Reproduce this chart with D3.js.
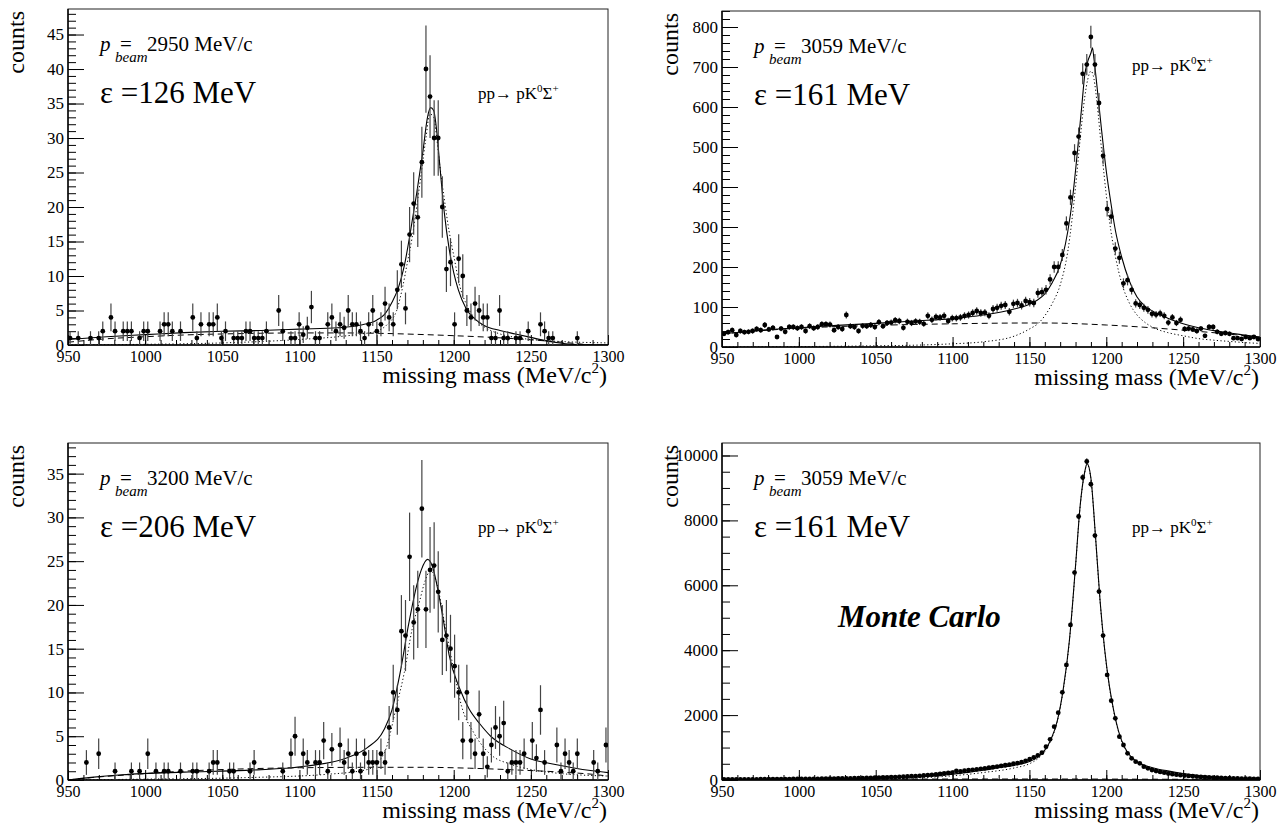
<!DOCTYPE html>
<html>
<head>
<meta charset="utf-8">
<script src="https://cdn.jsdelivr.net/npm/d3@7"></script>
<style>
    body { margin: 0; background: #fff; }
</style>
</head>
<body>
<div id="svg_container"></div>
<script>
// histogram binning shared by all four spectra
const massRange = [950, 1300];
const nBins = 132;
const xMajorTicks = [950, 1000, 1050, 1100, 1150, 1200, 1250, 1300];
const FONT = "'Liberation Serif', 'Times New Roman', Times, serif";

// counts per bin (0 = empty bin, not drawn)
const counts2950 = [
    1, 0, 1, 0, 0, 1, 0, 1, 2, 0,
    4, 2, 0, 2, 2, 2, 0, 1, 2, 2,
    0, 0, 2, 3, 3, 2, 0, 2, 0, 0,
    4, 1, 3, 0, 3, 3, 4, 1, 2, 0,
    1, 1, 1, 2, 2, 1, 1, 1, 2, 0,
    0, 5, 2, 0, 1, 1, 3, 1.5, 2.5, 5.5,
    1, 1, 0, 3, 4, 2, 3, 2.5, 5, 3,
    3, 2, 1, 3, 5, 2, 3, 6, 4, 3,
    8, 11.7, 5.3, 16, 20.5, 18.5, 26.5, 40, 36, 30,
    30, 20, 11, 12, 3, 12.5, 10, 5, 4, 6,
    5, 4, 4, 1, 1, 5, 1, 1, 0, 1,
    1, 0, 2, 0, 0, 3, 2, 1, 1, 0,
    0, 0, 0, 0, 1, 0, 0, 0, 0, 0,
    0, 0
];
const counts3059 = [
    33, 37, 42, 30, 40, 37, 38, 40, 45, 42,
    55, 44, 48, 25, 46, 38, 50, 50, 47, 50,
    40, 52, 47, 50, 57, 57, 56, 42, 50, 45,
    80, 52, 50, 40, 53, 52, 55, 50, 62, 52,
    60, 61, 67, 65, 48, 63, 60, 64, 63, 58,
    78, 68, 75, 74, 78, 65, 72, 72, 74, 78,
    80, 85, 90, 85, 86, 78, 95, 98, 103, 105,
    88, 108, 110, 104, 115, 112, 110, 135, 137, 143,
    169, 200, 200, 230, 309, 374, 485, 526, 683, 706,
    775, 706, 610, 478, 345, 326, 246, 223, 159, 167,
    143, 109, 105, 98, 93, 83, 81, 84, 78, 61,
    74, 60, 68, 45, 46, 44, 40, 46, 28, 50,
    50, 38, 33, 35, 33, 22, 22, 20, 25, 22,
    25, 20
];
const counts3200 = [
    0, 0, 0, 0, 2, 0, 0, 3, 0, 0,
    0, 1, 0, 0, 0, 1, 0, 1, 0, 3,
    0, 1, 0, 1, 1, 0, 0, 1, 0, 0,
    1, 1, 0, 0, 1, 2, 2, 0, 0, 1,
    1, 0, 0, 0, 1, 2, 0, 0, 0, 0,
    0, 0, 1, 0, 3, 5, 0, 3, 2, 0,
    2, 2, 4.5, 1, 3.5, 0, 4, 2, 3, 1,
    3, 1, 3, 2, 2, 2, 3, 2, 6, 10,
    8, 17, 16.5, 25.5, 18, 19.5, 31, 19.5, 24, 24.5,
    21.5, 16, 16.5, 15, 13, 10, 4.5, 10, 4.5, 3,
    7.5, 3, 1.5, 4, 6, 5, 6.5, 1, 2, 2,
    2, 3, 0, 4.5, 2.5, 8, 2, 0, 0, 4,
    1, 3, 2, 1, 3, 0, 0, 0, 2, 1,
    0, 4
];
const countsMC = [
    15, 16, 17, 18, 19, 20, 20, 21, 22, 23,
    24, 25, 26, 27, 28, 29, 30, 31, 32, 33,
    34, 35, 36, 37, 38, 40, 42, 44, 46, 48,
    50, 52, 54, 57, 60, 63, 66, 70, 74, 78,
    82, 86, 90, 95, 100, 108, 115, 120, 130, 140,
    150, 160, 170, 185, 200, 215, 230, 280, 265, 285,
    300, 315, 330, 345, 360, 380, 395, 415, 435, 455,
    475, 500, 520, 550, 590, 640, 700, 760, 843, 1028,
    1254, 1644, 2076, 2703, 3546, 4779, 6393, 8120, 9322, 9815,
    9116, 7533, 5807, 4450, 3237, 2446, 1901, 1336, 1079, 822,
    668, 565, 514, 411, 360, 308, 277, 250, 225, 200,
    180, 165, 150, 135, 125, 115, 105, 95, 88, 80,
    75, 70, 65, 60, 55, 50, 47, 44, 41, 38,
    35, 32
];

// fitted curves [mass, counts]: total, background, signal
const fit2950 = [[950,0.8],[975,1.2],[1000,1.5],[1025,1.8],[1050,2.0],[1075,2.1],[1100,2.3],[1125,2.5],[1140,2.9],[1150,3.6],[1155,4.4],[1160,6.2],[1164,8.2],[1168,11.5],[1172,16.5],[1176,22],[1180,28],[1183,33],[1185,34.4],[1187,34],[1189,31],[1191,26],[1194,19],[1197,14],[1200,10.5],[1203,8],[1208,5.3],[1214,3.7],[1220,2.8],[1230,2.1],[1240,1.6],[1250,1.1],[1260,0.6],[1270,0.25],[1280,0.05],[1290,0],[1300,0]];
const bkg2950 = [[950,0.4],[975,0.9],[1000,1.2],[1025,1.45],[1050,1.6],[1075,1.7],[1100,1.75],[1125,1.75],[1150,1.7],[1175,1.55],[1200,1.35],[1225,1.1],[1250,0.75],[1265,0.5],[1280,0.2],[1290,0],[1300,0]];
const sig2950 = [[950,0],[1000,0.1],[1050,0.3],[1075,0.5],[1100,0.8],[1125,1.2],[1140,1.6],[1150,2.0],[1157,3.0],[1163,5],[1167,8.5],[1170,12],[1173,15.5],[1176,20],[1179,25],[1182,30],[1184.5,33.5],[1187,33],[1189,30],[1191,26],[1194,21],[1197,16.5],[1200,13],[1204,8.5],[1208,6],[1213,4],[1220,2.6],[1230,1.6],[1240,1.1],[1255,0.7],[1270,0.5],[1300,0.3]];

const fit3059 = [[950,33],[975,42],[1000,48],[1025,54],[1050,59],[1075,65],[1100,71],[1120,80],[1140,95],[1150,107],[1155,117],[1160,133],[1165,162],[1170,205],[1175,290],[1178,370],[1181,480],[1184,600],[1186,680],[1188,715],[1190,735],[1191,748],[1192,720],[1194,650],[1197,540],[1200,440],[1203,360],[1206,290],[1210,225],[1215,165],[1220,125],[1225,103],[1230,90],[1240,72],[1250,58],[1260,48],[1270,41],[1280,35],[1290,30],[1300,25]];
const bkg3059 = [[950,33],[1000,47],[1050,54],[1100,58],[1150,60],[1160,60],[1200,55],[1230,48],[1250,42],[1275,34],[1300,24]];
const sig3059 = [[950,0],[1000,1],[1050,3],[1080,5],[1100,8],[1120,13],[1140,27],[1150,45],[1156,60],[1160,78],[1165,110],[1170,155],[1175,240],[1180,400],[1183,520],[1186,625],[1188,670],[1190,690],[1192,670],[1194,610],[1197,490],[1200,380],[1203,290],[1206,225],[1210,160],[1215,110],[1220,80],[1225,62],[1232,46],[1240,36],[1250,28],[1260,21],[1270,17],[1280,14],[1290,11],[1300,9]];

const fit3200 = [[950,0],[965,0.3],[985,0.6],[1025,0.9],[1065,1.1],[1105,1.6],[1131,2.55],[1144,3.7],[1155,5.8],[1160,8],[1165,12],[1171,18],[1176,22.2],[1179,24],[1183,25.2],[1186,24.5],[1190,21.5],[1194,17.5],[1197,14.3],[1204,10.4],[1210,8.1],[1217,6.4],[1224,5.0],[1237,3.5],[1250,2.4],[1265,1.8],[1277,1.4],[1290,1.05],[1300,0.84]];
const bkg3200 = [[950,0],[970,0.35],[990,0.6],[1010,0.85],[1030,1.05],[1060,1.25],[1100,1.4],[1150,1.45],[1180,1.45],[1210,1.35],[1240,1.15],[1270,0.9],[1290,0.65],[1300,0.45]];
const sig3200 = [[950,0],[1000,0.1],[1065,0.27],[1118,0.65],[1144,1.2],[1155,3.1],[1163,8.5],[1168,12.3],[1173,17.2],[1178,20.5],[1181,22.5],[1185,23.9],[1189,22.5],[1194,18],[1200,12.6],[1205,8.5],[1213,5.4],[1224,2.9],[1237,1.8],[1250,1.2],[1264,0.84],[1300,0.45]];

const fitMC = [[950,15],[1000,30],[1050,60],[1075,95],[1090,130],[1100,180],[1110,235],[1120,300],[1130,375],[1140,450],[1150,570],[1155,690],[1160,920],[1164,1250],[1168,1800],[1172,2800],[1176,4300],[1180,6600],[1183,8450],[1186,9500],[1187.5,9750],[1190,9300],[1193,7500],[1196,5500],[1199,4000],[1202,2900],[1205,2100],[1208,1500],[1212,1000],[1216,720],[1220,560],[1230,380],[1240,280],[1250,200],[1260,140],[1270,100],[1280,70],[1290,50],[1300,35]];
const bkgMC = [[950,15],[1000,20],[1050,25],[1100,30],[1150,30],[1200,28],[1250,22],[1300,15]];
const sigMC = [[950,0],[1000,10],[1050,35],[1080,70],[1100,130],[1120,230],[1140,370],[1150,500],[1155,640],[1160,880],[1164,1230],[1168,1780],[1172,2780],[1176,4280],[1180,6580],[1183,8430],[1186,9480],[1187.5,9730],[1190,9280],[1193,7480],[1196,5480],[1199,3980],[1202,2880],[1205,2080],[1208,1480],[1212,980],[1216,700],[1220,540],[1230,360],[1240,260],[1250,180],[1260,120],[1270,85],[1280,58],[1290,40],[1300,25]];

const panelDefs = [
    {counts: counts2950, fit: fit2950, bkg: bkg2950, sig: sig2950, yMax: 48.7, yMajor: 5, yMinor: 1,
        box: [68, 9, 608, 345], pbeam: "2950", eps: "126", mc: false},
    {counts: counts3059, fit: fit3059, bkg: bkg3059, sig: sig3059, yMax: 840, yMajor: 100, yMinor: 20,
        box: [722, 11, 1260, 347], pbeam: "3059", eps: "161", mc: false},
    {counts: counts3200, fit: fit3200, bkg: bkg3200, sig: sig3200, yMax: 38.5, yMajor: 5, yMinor: 1,
        box: [68, 443, 608, 780], pbeam: "3200", eps: "206", mc: false},
    {counts: countsMC, fit: fitMC, bkg: bkgMC, sig: sigMC, yMax: 10385, yMajor: 2000, yMinor: 500,
        box: [722, 443, 1260, 780], pbeam: "3059", eps: "161", mc: true}
];

const svg = d3.select("#svg_container")
        .append("svg")
        .attr("width", 1281)
        .attr("height", 825)
        .attr("font-family", FONT);

const binWidth = (massRange[1] - massRange[0]) / nBins;

function addText(x, y, size, str) {
    return svg.append("text")
            .attr("x", x).attr("y", y)
            .attr("font-family", FONT)
            .attr("font-size", size)
            .attr("fill", "#000")
            .text(str);
}

panelDefs.forEach(function (p, i) {
    const [x0, y0, x1, y1] = p.box;
    const x = d3.scaleLinear().domain(massRange).range([x0, x1]);
    const y = d3.scaleLinear().domain([0, p.yMax]).range([y1, y0]);
    const g = svg.append("g").attr("class", "panel");

    g.append("clipPath").attr("id", "clip" + i)
            .append("rect")
            .attr("x", x0).attr("y", y0)
            .attr("width", x1 - x0).attr("height", y1 - y0);

    // axes, ticks pointing inward as in ROOT
    const bottom = g.append("g")
            .attr("transform", "translate(0," + y1 + ")")
            .call(d3.axisBottom(x).tickValues(xMajorTicks).tickSize(-10).tickPadding(6).tickFormat(d3.format("d")));
    g.append("g")
            .attr("transform", "translate(0," + y1 + ")")
            .call(d3.axisBottom(x).tickValues(d3.range(massRange[0], massRange[1] + 1, 10)).tickSize(-5).tickFormat(""));
    const yMajors = d3.range(0, p.yMax + 1e-6, p.yMajor);
    const left = g.append("g")
            .attr("transform", "translate(" + x0 + ",0)")
            .call(d3.axisLeft(y).tickValues(yMajors).tickSize(-16).tickPadding(4).tickFormat(d3.format("d")));
    g.append("g")
            .attr("transform", "translate(" + x0 + ",0)")
            .call(d3.axisLeft(y).tickValues(d3.range(0, p.yMax + 1e-6, p.yMinor)).tickSize(-8).tickFormat(""));

    g.selectAll(".domain").remove();
    g.selectAll("g").attr("font-family", FONT);
    g.selectAll(".tick line").attr("stroke", "#000").attr("stroke-width", 1);
    bottom.selectAll("text").attr("font-size", 16).attr("font-family", FONT).attr("fill", "#000");
    left.selectAll("text").attr("font-size", 17).attr("font-family", FONT).attr("fill", "#000");

    g.append("rect")
            .attr("x", x0).attr("y", y0)
            .attr("width", x1 - x0).attr("height", y1 - y0)
            .attr("fill", "none").attr("stroke", "#222").attr("stroke-width", 1);
    g.append("line").attr("x1", x0).attr("x2", x1).attr("y1", y1).attr("y2", y1)
            .attr("stroke", "#000").attr("stroke-width", 1.6);
    g.append("line").attr("x1", x0).attr("x2", x0).attr("y1", y0).attr("y2", y1)
            .attr("stroke", "#000").attr("stroke-width", 1.4);

    // fitted curves
    const line = d3.line()
            .x(d => x(d[0]))
            .y(d => y(d[1]))
            .curve(d3.curveMonotoneX);
    const curves = g.append("g").attr("clip-path", "url(#clip" + i + ")");
    curves.append("path").datum(p.bkg).attr("d", line)
            .attr("fill", "none").attr("stroke", "#000").attr("stroke-width", 1)
            .attr("stroke-dasharray", "6,4");
    curves.append("path").datum(p.sig).attr("d", line)
            .attr("fill", "none").attr("stroke", "#000").attr("stroke-width", 1)
            .attr("stroke-dasharray", "1.2,2.4");
    curves.append("path").datum(p.fit).attr("d", line)
            .attr("fill", "none").attr("stroke", "#000").attr("stroke-width", 1.1);

    // data points with statistical errors
    const pts = p.counts.map((c, k) => ({m: massRange[0] + (k + 0.5) * binWidth, c: c}))
            .filter(d => d.c > 0);
    const marks = g.append("g").attr("clip-path", "url(#clip" + i + ")");
    marks.selectAll("line.err").data(pts).enter().append("line")
            .attr("class", "err")
            .attr("x1", d => x(d.m)).attr("x2", d => x(d.m))
            .attr("y1", d => y(Math.max(0, d.c - Math.sqrt(d.c))))
            .attr("y2", d => y(d.c + Math.sqrt(d.c)))
            .attr("stroke", "#444").attr("stroke-width", 1.2);
    marks.selectAll("circle").data(pts).enter().append("circle")
            .attr("cx", d => x(d.m)).attr("cy", d => y(d.c))
            .attr("r", 2.4).attr("fill", "#000");

    // labels
    addText(0, 0, 24, "counts")
            .attr("transform", "translate(" + (x0 - 44) + "," + (y0 + 2) + ")rotate(-90)")
            .attr("x", null).attr("y", null)
            .attr("text-anchor", "end");
    const xt = addText(x1 - 1, y1 + 38, 24, null).attr("text-anchor", "end");
    xt.append("tspan").text("missing mass (MeV/c");
    xt.append("tspan").attr("font-size", 15).attr("dy", -10).text("2");
    xt.append("tspan").attr("dy", 10).text(")");

    const tx = x0 + 32;
    const ty = y0 + 42;
    addText(tx, ty, 21, "p").attr("font-style", "italic");
    addText(tx + 20, ty, 21, "=");
    addText(tx + 15, ty + 11, 15, "beam").attr("font-style", "italic");
    addText(tx + 47, ty, 21, p.pbeam + " MeV/c");

    addText(tx, y0 + 94, 31, "\u03b5 =" + p.eps + " MeV");

    const rx = addText(x0 + 410, i === 1 ? y0 + 60 : y0 + 90, 17, null);
    rx.append("tspan").text("pp\u2192 pK");
    rx.append("tspan").attr("font-size", 11).attr("dy", -7).text("0");
    rx.append("tspan").attr("font-size", 17).attr("dy", 7).text("\u03a3");
    rx.append("tspan").attr("font-size", 11).attr("dy", -7).text("+");

    if (p.mc) {
        addText(x0 + 116, y0 + 184, 31, "Monte Carlo")
                .attr("font-weight", "bold").attr("font-style", "italic");
    }
});
</script>
</body>
</html>
